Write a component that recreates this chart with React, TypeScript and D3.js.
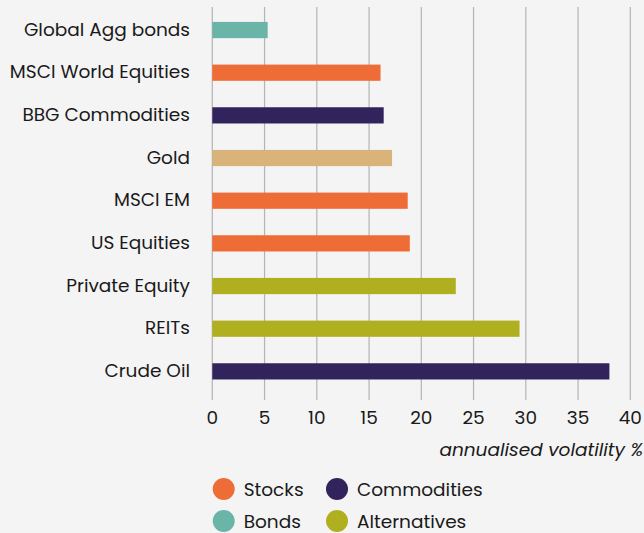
import React from "react";
import * as d3 from "d3";

const categories = [
  "Global Agg bonds",
  "MSCI World Equities",
  "BBG Commodities",
  "Gold",
  "MSCI EM",
  "US Equities",
  "Private Equity",
  "REITs",
  "Crude Oil",
];
const values = [5.3, 16.1, 16.4, 17.2, 18.7, 18.9, 23.3, 29.4, 38.0];
const groups = [
  "Bonds",
  "Stocks",
  "Commodities",
  "Gold",
  "Stocks",
  "Stocks",
  "Alternatives",
  "Alternatives",
  "Commodities",
];
const xTicks = [0, 5, 10, 15, 20, 25, 30, 35, 40];
const legendItems = ["Stocks", "Commodities", "Bonds", "Alternatives"];
const axisTitle = "annualised volatility %";

const colorMap: Record<string, string> = {
  Stocks: "#ee6c35",
  Commodities: "#31235b",
  Bonds: "#6bb5a8",
  Alternatives: "#b0af20",
  Gold: "#d9b47a",
};

const W = 644;
const H = 533;
const FONT = "Poppins, 'Open Sans', 'DejaVu Sans', sans-serif";

export default function App() {
  const x = d3.scaleLinear().domain([0, 40]).range([212.3, 630.3]);
  const y = d3
    .scaleBand<string>()
    .domain(categories)
    .range([8.7, 392.7])
    .paddingInner(0.62)
    .paddingOuter(0.31);

  const legendPos = [
    { cx: 223.7, cy: 489 },
    { cx: 337, cy: 489 },
    { cx: 223.7, cy: 521 },
    { cx: 337, cy: 521 },
  ];

  return (
    <svg
      width={W}
      height={H}
      style={{ position: "absolute", left: 0, top: 0, background: "#f4f4f4" }}
      fontFamily={FONT}
    >
      <rect x={0} y={0} width={W} height={H} fill="#f4f4f4" />
      {xTicks.map((t) => (
        <line
          key={t}
          x1={x(t)}
          x2={x(t)}
          y1={7}
          y2={400}
          stroke="#b4b4b4"
          strokeWidth={1.2}
        />
      ))}
      {categories.map((c, i) => (
        <g key={c}>
          <rect
            x={x(0)}
            y={y(c)}
            width={x(values[i]) - x(0)}
            height={y.bandwidth()}
            fill={colorMap[groups[i]]}
          />
          <text
            x={190}
            y={(y(c) as number) + y.bandwidth() / 2 - 1}
            textAnchor="end"
            dominantBaseline="central"
            fontSize={18.5}
            fill="#1a1a1a"
          >
            {c}
          </text>
        </g>
      ))}
      {xTicks.map((t) => (
        <text
          key={"t" + t}
          x={x(t)}
          y={417}
          textAnchor="middle"
          dominantBaseline="central"
          fontSize={18.5}
          fill="#1a1a1a"
        >
          {t}
        </text>
      ))}
      <text
        x={643}
        y={449}
        textAnchor="end"
        dominantBaseline="central"
        fontSize={18.5}
        fontStyle="italic"
        fill="#1a1a1a"
      >
        {axisTitle}
      </text>
      {legendItems.map((l, i) => (
        <g key={l}>
          <circle
            cx={legendPos[i].cx}
            cy={legendPos[i].cy}
            r={11}
            fill={colorMap[l]}
          />
          <text
            x={legendPos[i].cx + 20}
            y={legendPos[i].cy}
            dominantBaseline="central"
            fontSize={18.5}
            fill="#1a1a1a"
          >
            {l}
          </text>
        </g>
      ))}
    </svg>
  );
}
